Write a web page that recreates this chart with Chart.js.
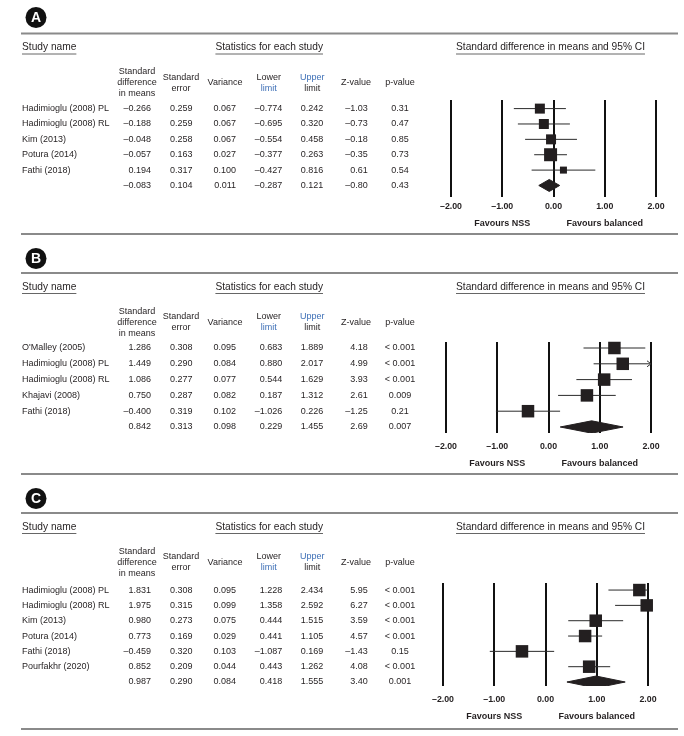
<!DOCTYPE html>
<html>
<head>
<meta charset="utf-8">
<script src="https://cdn.jsdelivr.net/npm/chart.js@4.4.1/dist/chart.umd.min.js"></script>
<style>
  body { margin: 0; background: #fff; }
  #wrap { position: relative; width: 684px; height: 736px; }
  #wrap canvas { position: absolute; left: 0; top: 0; }
</style>
</head>
<body>
<div id="wrap">
  <canvas id="chartA" width="684" height="736"></canvas>
  <canvas id="chartB" width="684" height="736"></canvas>
  <canvas id="chartC" width="684" height="736"></canvas>
</div>
<script>
// ---- data ----
const xTicks = [-2, -1, 0, 1, 2];

// panel A
const studiesA = ['Hadimioglu (2008) PL', 'Hadimioglu (2008) RL', 'Kim (2013)', 'Potura (2014)', 'Fathi (2018)'];
const smdA = [-0.266, -0.188, -0.048, -0.057, 0.194];
const seA = [0.259, 0.259, 0.258, 0.163, 0.317];
const varA = [0.067, 0.067, 0.067, 0.027, 0.100];
const lowerA = [-0.774, -0.695, -0.554, -0.377, -0.427];
const upperA = [0.242, 0.320, 0.458, 0.263, 0.816];
const zA = [-1.03, -0.73, -0.18, -0.35, 0.61];
const pA = ['0.31', '0.47', '0.85', '0.73', '0.54'];
const pooledA = [-0.083, 0.104, 0.011, -0.287, 0.121, -0.80, '0.43'];

// panel B
const studiesB = ["O'Malley (2005)", 'Hadimioglu (2008) PL', 'Hadimioglu (2008) RL', 'Khajavi (2008)', 'Fathi (2018)'];
const smdB = [1.286, 1.449, 1.086, 0.750, -0.400];
const seB = [0.308, 0.290, 0.277, 0.287, 0.319];
const varB = [0.095, 0.084, 0.077, 0.082, 0.102];
const lowerB = [0.683, 0.880, 0.544, 0.187, -1.026];
const upperB = [1.889, 2.017, 1.629, 1.312, 0.226];
const zB = [4.18, 4.99, 3.93, 2.61, -1.25];
const pB = ['< 0.001', '< 0.001', '< 0.001', '0.009', '0.21'];
const pooledB = [0.842, 0.313, 0.098, 0.229, 1.455, 2.69, '0.007'];

// panel C
const studiesC = ['Hadimioglu (2008) PL', 'Hadimioglu (2008) RL', 'Kim (2013)', 'Potura (2014)', 'Fathi (2018)', 'Pourfakhr (2020)'];
const smdC = [1.831, 1.975, 0.980, 0.773, -0.459, 0.852];
const seC = [0.308, 0.315, 0.273, 0.169, 0.320, 0.209];
const varC = [0.095, 0.099, 0.075, 0.029, 0.103, 0.044];
const lowerC = [1.228, 1.358, 0.444, 0.441, -1.087, 0.443];
const upperC = [2.434, 2.592, 1.515, 1.105, 0.169, 1.262];
const zC = [5.95, 6.27, 3.59, 4.57, -1.43, 4.08];
const pC = ['< 0.001', '< 0.001', '< 0.001', '< 0.001', '0.15', '< 0.001'];
const pooledC = [0.987, 0.290, 0.084, 0.418, 1.555, 3.40, '0.001'];

// ---- look ----
const FONT = "'Liberation Sans', Arial, sans-serif";
const INK = '#231f20';
const BLUE = '#3d6fb6';

const cols = [
  { x: 151, align: 'right', d: 3 },
  { x: 192.5, align: 'right', d: 3 },
  { x: 236, align: 'right', d: 3 },
  { x: 282.3, align: 'right', d: 3 },
  { x: 323.3, align: 'right', d: 3 },
  { x: 367.7, align: 'right', d: 2 },
  { x: 400, align: 'center' }
];
const heads = [
  { x: 137, lines: ['Standard', 'difference', 'in means'] },
  { x: 181, lines: ['Standard', 'error'] },
  { x: 225, lines: ['Variance'] },
  { x: 268.7, lines: ['Lower', 'limit'], blue: [1] },
  { x: 312.3, lines: ['Upper', 'limit'], blue: [0] },
  { x: 356, lines: ['Z-value'] },
  { x: 400, lines: ['p-value'] }
];

function fmt(v, d) {
  return (v < 0 ? '\u2013' : '') + Math.abs(v).toFixed(d);
}

function text(ctx, s, x, y, align, font, color) {
  ctx.font = font;
  ctx.fillStyle = color || INK;
  ctx.textAlign = align;
  ctx.textBaseline = 'middle';
  ctx.fillText(s, x, y);
}

function underline(ctx, s, x, y, align, font) {
  ctx.font = font;
  const w = ctx.measureText(s).width;
  let x0 = x;
  if (align === 'center') x0 = x - w / 2;
  ctx.strokeStyle = '#666';
  ctx.lineWidth = 1;
  ctx.beginPath();
  ctx.moveTo(x0, y + 6.5);
  ctx.lineTo(x0 + w, y + 6.5);
  ctx.stroke();
}

function tablePlugin(p) {
  return {
    id: 'table' + p.letter,
    beforeDraw(chart) {
      const ctx = chart.ctx;
      const ys = chart.scales.y;
      const xs = chart.scales.x;
      ctx.save();
      // rules
      ctx.strokeStyle = '#8a8a8a';
      ctx.lineWidth = 2;
      [p.ruleTop, p.ruleBottom].forEach(function (ry) {
        ctx.beginPath();
        ctx.moveTo(21, ry);
        ctx.lineTo(678, ry);
        ctx.stroke();
      });
      // badge
      ctx.fillStyle = '#111';
      ctx.beginPath();
      ctx.arc(36, p.badgeY, 10.5, 0, Math.PI * 2);
      ctx.fill();
      text(ctx, p.letter, 36, p.badgeY + 0.5, 'center', 'bold 14px ' + FONT, '#fff');

      // section headings
      const hy = p.ruleTop + 14;
      const hf = '10.2px ' + FONT;
      text(ctx, 'Study name', 22, hy, 'left', hf);
      underline(ctx, 'Study name', 22, hy, 'left', hf);
      text(ctx, 'Statistics for each study', 269.2, hy, 'center', hf);
      underline(ctx, 'Statistics for each study', 269.2, hy, 'center', hf);
      text(ctx, 'Standard difference in means and 95% CI', 550.5, hy, 'center', hf);
      underline(ctx, 'Standard difference in means and 95% CI', 550.5, hy, 'center', hf);

      // column headings
      const cf = '9px ' + FONT;
      heads.forEach(function (h) {
        const n = h.lines.length;
        const mid = p.ruleTop + 49.5;
        h.lines.forEach(function (ln, k) {
          const y = mid + (k - (n - 1) / 2) * 11;
          const col = h.blue && h.blue.indexOf(k) >= 0 ? BLUE : INK;
          text(ctx, ln, h.x, y, 'center', cf, col);
        });
      });

      // rows
      const tf = '9px ' + FONT;
      p.names.forEach(function (name, i) {
        const y = ys.getPixelForValue(i);
        text(ctx, name, 22, y, 'left', tf);
        const vals = [p.smd[i], p.se[i], p.v[i], p.lo[i], p.up[i], p.z[i], p.p[i]];
        vals.forEach(function (v, c) {
          const s = typeof v === 'string' ? v : fmt(v, cols[c].d);
          text(ctx, s, cols[c].x, y, cols[c].align, tf);
        });
      });
      const sy = ys.getPixelForValue(p.names.length);
      p.pooled.forEach(function (v, c) {
        const s = typeof v === 'string' ? v : fmt(v, cols[c].d);
        text(ctx, s, cols[c].x, sy, cols[c].align, tf);
      });

      // favours labels
      const ff = 'bold 9px ' + FONT;
      text(ctx, 'Favours NSS', xs.getPixelForValue(-1), p.favY, 'center', ff);
      text(ctx, 'Favours balanced', xs.getPixelForValue(1), p.favY, 'center', ff);
      ctx.restore();
    },
    afterDatasetsDraw(chart) {
      const ctx = chart.ctx;
      const ys = chart.scales.y;
      const xs = chart.scales.x;
      ctx.save();
      ctx.strokeStyle = '#333';
      ctx.lineWidth = 1;
      (p.arrows || []).forEach(function (i) {
        const x = xs.getPixelForValue(xs.max);
        const y = ys.getPixelForValue(i);
        ctx.beginPath();
        ctx.moveTo(x - 4, y - 3);
        ctx.lineTo(x, y);
        ctx.lineTo(x - 4, y + 3);
        ctx.stroke();
      });
      ctx.restore();
    }
  };
}

function makePanel(id, p) {
  const n = p.names.length;
  const datasets = [];
  p.names.forEach(function (name, i) {
    datasets.push({
      type: 'line',
      data: [{ x: p.lo[i], y: i }, { x: p.up[i], y: i }],
      borderColor: '#2a2a2a',
      borderWidth: 1,
      pointRadius: 0,
      fill: false,
      order: 2
    });
  });
  datasets.push({
    type: 'scatter',
    data: p.smd.map(function (v, i) { return { x: v, y: i }; }),
    pointStyle: 'rect',
    pointRadius: p.box.map(function (s) { return s / Math.SQRT2; }),
    pointHoverRadius: p.box.map(function (s) { return s / Math.SQRT2; }),
    backgroundColor: INK,
    borderWidth: 0,
    clip: false,
    order: 0
  });
  const m = p.pooled[0], lo = p.pooled[3], up = p.pooled[4], h = 0.39;
  datasets.push({
    type: 'line',
    data: [{ x: lo, y: n }, { x: m, y: n - h }, { x: up, y: n }, { x: m, y: n + h }, { x: lo, y: n }],
    borderColor: INK,
    borderWidth: 1,
    backgroundColor: INK,
    fill: 'shape',
    pointRadius: 0,
    tension: 0,
    order: 1
  });

  return new Chart(document.getElementById(id), {
    type: 'scatter',
    data: { datasets: datasets },
    options: {
      responsive: false,
      animation: false,
      events: [],
      layout: {
        autoPadding: false,
        padding: { left: p.area.left, right: 684 - p.area.right, top: p.area.top, bottom: 736 - p.area.bottom - 20 }
      },
      plugins: { legend: { display: false }, tooltip: { enabled: false } },
      scales: {
        x: {
          type: 'linear',
          min: xTicks[0],
          max: xTicks[xTicks.length - 1],
          afterFit: function (s) { s.height = 20; },
          afterBuildTicks: function (s) { s.ticks = xTicks.map(function (v) { return { value: v }; }); },
          grid: { color: '#111', lineWidth: 2, drawTicks: false },
          border: { display: false },
          ticks: {
            padding: p.tickPad,
            color: INK,
            font: { family: FONT, size: 8.8, weight: 'bold' },
            callback: function (v) { return fmt(v, 2); }
          }
        },
        y: { type: 'linear', display: false, reverse: true, min: p.yMin, max: p.yMax }
      }
    },
    plugins: [tablePlugin(p)]
  });
}

makePanel('chartA', {
  letter: 'A', badgeY: 17.5, ruleTop: 33.5, ruleBottom: 234, favY: 224, tickPad: 4,
  area: { left: 451, right: 656, top: 100, bottom: 197 }, yMin: -0.56, yMax: 5.75,
  names: studiesA, smd: smdA, se: seA, v: varA, lo: lowerA, up: upperA, z: zA, p: pA, pooled: pooledA,
  box: [10, 10, 10, 13, 7]
});
makePanel('chartB', {
  letter: 'B', badgeY: 258.5, ruleTop: 273, ruleBottom: 474, favY: 464, tickPad: 8,
  area: { left: 446, right: 651, top: 342, bottom: 433 }, yMin: -0.38, yMax: 5.38,
  names: studiesB, smd: smdB, se: seB, v: varB, lo: lowerB, up: upperB, z: zB, p: pB, pooled: pooledB,
  box: [12.5, 12.5, 12.5, 12.5, 12.5], arrows: [1]
});
makePanel('chartC', {
  letter: 'C', badgeY: 498.5, ruleTop: 513, ruleBottom: 729, favY: 717, tickPad: 8,
  area: { left: 443, right: 648, top: 583, bottom: 686 }, yMin: -0.46, yMax: 6.26,
  names: studiesC, smd: smdC, se: seC, v: varC, lo: lowerC, up: upperC, z: zC, p: pC, pooled: pooledC,
  box: [12.5, 12.5, 12.5, 12.5, 12.5, 12.5]
});
</script>
</body>
</html>
